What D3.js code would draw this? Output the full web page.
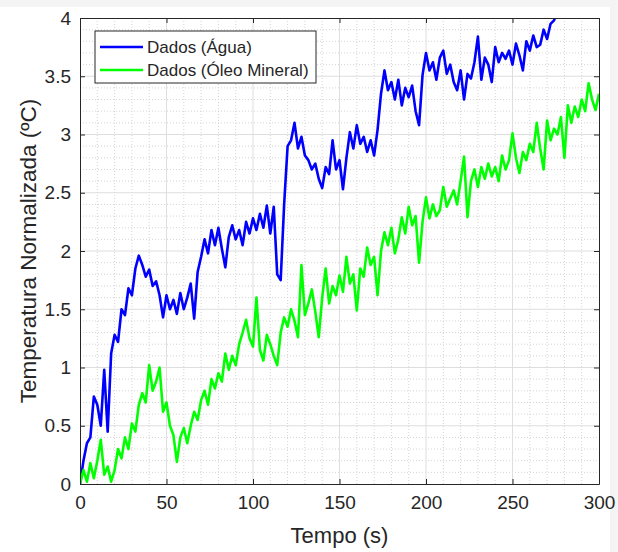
<!DOCTYPE html>
<html>
<head>
<meta charset="utf-8">
<script src="https://cdn.jsdelivr.net/npm/d3@7"></script>
<style>
  body { margin: 0; background: #fff; }
  text { font-family: "Liberation Sans", Arial, sans-serif; fill: #262626; }
</style>
</head>
<body>
<div id="chart"></div>
<script>
// sampling step of the readings, seconds
var step = 2;

// Dados (Água), one value every 2 s from t = 0
var agua = [
  0.00, 0.20, 0.35, 0.40, 0.75, 0.68, 0.50, 0.98, 0.45, 1.12,
  1.28, 1.22, 1.50, 1.45, 1.68, 1.62, 1.85, 1.96, 1.88, 1.78,
  1.84, 1.70, 1.74, 1.62, 1.43, 1.62, 1.50, 1.58, 1.46, 1.64,
  1.50, 1.60, 1.72, 1.42, 1.82, 1.95, 2.10, 1.98, 2.18, 2.05,
  2.20, 2.02, 1.86, 2.12, 2.22, 2.10, 2.18, 2.05, 2.25, 2.15,
  2.28, 2.18, 2.32, 2.20, 2.39, 2.15, 2.38, 1.80, 1.75, 2.40,
  2.90, 2.95, 3.10, 2.88, 2.98, 2.82, 2.78, 2.70, 2.75, 2.62,
  2.54, 2.72, 2.66, 2.95, 2.70, 2.78, 2.53, 2.80, 3.02, 2.88,
  3.08, 2.92, 2.98, 2.85, 2.95, 2.82, 3.04, 3.35, 3.55, 3.38,
  3.45, 3.30, 3.47, 3.25, 3.40, 3.32, 3.42, 3.20, 3.08, 3.51,
  3.70, 3.55, 3.62, 3.47, 3.66, 3.72, 3.52, 3.60, 3.45, 3.38,
  3.55, 3.30, 3.52, 3.48, 3.62, 3.84, 3.47, 3.66, 3.60, 3.45,
  3.75, 3.62, 3.70, 3.65, 3.72, 3.60, 3.78, 3.68, 3.55, 3.80,
  3.72, 3.85, 3.75, 3.77, 3.90, 3.82, 3.95, 3.98, 4.05
];

// Dados (Óleo Mineral), one value every 2 s from t = 0
var oleo = [
  0.00, 0.12, 0.02, 0.18, 0.05, 0.20, 0.38, 0.08, 0.15, 0.02,
  0.12, 0.30, 0.22, 0.40, 0.30, 0.52, 0.45, 0.68, 0.78, 0.70,
  1.02, 0.80, 0.88, 1.00, 0.62, 0.70, 0.50, 0.42, 0.19, 0.40,
  0.48, 0.35, 0.50, 0.62, 0.55, 0.72, 0.80, 0.68, 0.90, 0.82,
  0.95, 0.88, 1.12, 0.98, 1.10, 1.02, 1.20, 1.30, 1.41, 1.25,
  1.18, 1.60, 1.15, 1.06, 1.28, 1.20, 1.10, 1.02, 1.30, 1.43,
  1.35, 1.50, 1.40, 1.26, 1.88, 1.45, 1.55, 1.67, 1.48, 1.26,
  1.60, 1.85, 1.55, 1.70, 1.62, 1.79, 1.65, 1.95, 1.72, 1.80,
  1.49, 1.85, 1.78, 2.03, 1.88, 1.95, 1.62, 2.00, 2.16, 2.05,
  2.20, 1.98, 2.10, 2.29, 2.15, 2.38, 2.22, 2.30, 1.90, 2.25,
  2.46, 2.28, 2.40, 2.30, 2.35, 2.55, 2.38, 2.45, 2.52, 2.40,
  2.60, 2.81, 2.29, 2.60, 2.70, 2.55, 2.72, 2.62, 2.75, 2.64,
  2.72, 2.60, 2.82, 2.70, 2.78, 3.01, 2.80, 2.67, 2.85, 2.78,
  2.92, 2.85, 3.10, 2.88, 2.70, 3.12, 2.95, 3.05, 3.00, 3.15,
  2.80, 3.25, 3.10, 3.24, 3.15, 3.30, 3.20, 3.44, 3.30, 3.21,
  3.35
];

var xTicks = [0, 50, 100, 150, 200, 250, 300];
var yTicks = [0, 0.5, 1, 1.5, 2, 2.5, 3, 3.5, 4];
var seriesNames = ["Dados (Água)", "Dados (Óleo Mineral)"];
var seriesColors = ["#0000ff", "#00ff00"];

var width = 618, height = 552;
var margin = {top: 18, right: 19, bottom: 68, left: 80};
var innerW = width - margin.left - margin.right;
var innerH = height - margin.top - margin.bottom;

var svg = d3.select("#chart").append("svg")
    .attr("width", width)
    .attr("height", height);

// light page edge from the original capture
svg.append("rect").attr("width", width).attr("height", height).attr("fill", "#f4f4f4");
svg.append("rect").attr("x", 0).attr("y", 7).attr("width", 610).attr("height", height - 7).attr("fill", "#fff");

var x = d3.scaleLinear().domain([0, 300]).range([0, innerW]);
var y = d3.scaleLinear().domain([0, 4]).range([innerH, 0]);

var g = svg.append("g").attr("transform", "translate(" + margin.left + "," + margin.top + ")");

//Minor grid
g.selectAll(".minor-x")
    .data(d3.range(10, 300, 10).filter(function(d){ return d % 50 !== 0; }))
    .enter().append("line")
    .attr("x1", function(d){ return x(d); }).attr("x2", function(d){ return x(d); })
    .attr("y1", 0).attr("y2", innerH)
    .attr("stroke", "#d4d4d4").attr("stroke-width", 1).attr("stroke-dasharray", "1,2");

g.selectAll(".minor-y")
    .data(d3.range(1, 40).filter(function(d){ return d % 5 !== 0; }).map(function(d){ return d / 10; }))
    .enter().append("line")
    .attr("y1", function(d){ return y(d); }).attr("y2", function(d){ return y(d); })
    .attr("x1", 0).attr("x2", innerW)
    .attr("stroke", "#d4d4d4").attr("stroke-width", 1).attr("stroke-dasharray", "1,2");

//Major grid
g.selectAll(".major-x")
    .data(xTicks.slice(1, -1))
    .enter().append("line")
    .attr("x1", function(d){ return x(d); }).attr("x2", function(d){ return x(d); })
    .attr("y1", 0).attr("y2", innerH)
    .attr("stroke", "#dedede").attr("stroke-width", 1);

g.selectAll(".major-y")
    .data(yTicks.slice(1, -1))
    .enter().append("line")
    .attr("y1", function(d){ return y(d); }).attr("y2", function(d){ return y(d); })
    .attr("x1", 0).attr("x2", innerW)
    .attr("stroke", "#dedede").attr("stroke-width", 1);

// Lines
g.append("clipPath").attr("id", "plot-clip")
    .append("rect").attr("width", innerW).attr("height", innerH);

var line = d3.line()
    .x(function(d, i){ return x(i * step); })
    .y(function(d){ return y(d); });

[agua, oleo].forEach(function(data, k){
    g.append("path")
        .datum(data)
        .attr("clip-path", "url(#plot-clip)")
        .attr("fill", "none")
        .attr("stroke", seriesColors[k])
        .attr("stroke-width", 2.6)
        .attr("stroke-linejoin", "round")
        .attr("d", line);
});

// Axes, ticks inside on all four sides
var axisColor = "#262626";
function styleAxis(sel){
    sel.select(".domain").attr("stroke", axisColor).attr("stroke-width", 1);
    sel.selectAll(".tick line").attr("stroke", axisColor);
    sel.selectAll(".tick text").style("font-family", "'Liberation Sans', Arial, sans-serif")
        .style("font-size", "19px").attr("fill", axisColor);
}

g.append("g").attr("transform", "translate(0," + innerH + ")")
    .call(d3.axisBottom(x).tickValues(xTicks).tickSizeInner(-5).tickSizeOuter(0).tickPadding(12))
    .call(styleAxis);
g.append("g")
    .call(d3.axisLeft(y).tickValues(yTicks).tickFormat(d3.format("")).tickSizeInner(-5).tickSizeOuter(0).tickPadding(9))
    .call(styleAxis);
g.append("g")
    .call(d3.axisTop(x).tickValues(xTicks).tickSizeInner(-5).tickSizeOuter(0).tickFormat(""))
    .call(styleAxis);
g.append("g").attr("transform", "translate(" + innerW + ",0)")
    .call(d3.axisRight(y).tickValues(yTicks).tickSizeInner(-5).tickSizeOuter(0).tickFormat(""))
    .call(styleAxis);

// Axis titles
svg.append("text")
    .attr("x", margin.left + innerW / 2).attr("y", 543)
    .attr("text-anchor", "middle")
    .attr("font-size", "22px")
    .text("Tempo (s)");

svg.append("text")
    .attr("transform", "translate(36," + (margin.top + innerH / 2) + ") rotate(-90)")
    .attr("text-anchor", "middle")
    .attr("font-size", "22.5px")
    .text("Temperatura Normalizada (ºC)");

// Legend
var legend = svg.append("g").attr("transform", "translate(95,31)");
legend.append("rect")
    .attr("width", 221).attr("height", 52)
    .attr("fill", "#fff").attr("stroke", axisColor).attr("stroke-width", 1);

seriesNames.forEach(function(name, i){
    legend.append("line")
        .attr("x1", 5).attr("x2", 48)
        .attr("y1", 16 + i * 23).attr("y2", 16 + i * 23)
        .attr("stroke", seriesColors[i]).attr("stroke-width", 2.6);
    legend.append("text")
        .attr("x", 52).attr("y", 22 + i * 23)
        .attr("font-size", "17px")
        .text(name);
});
</script>
</body>
</html>
